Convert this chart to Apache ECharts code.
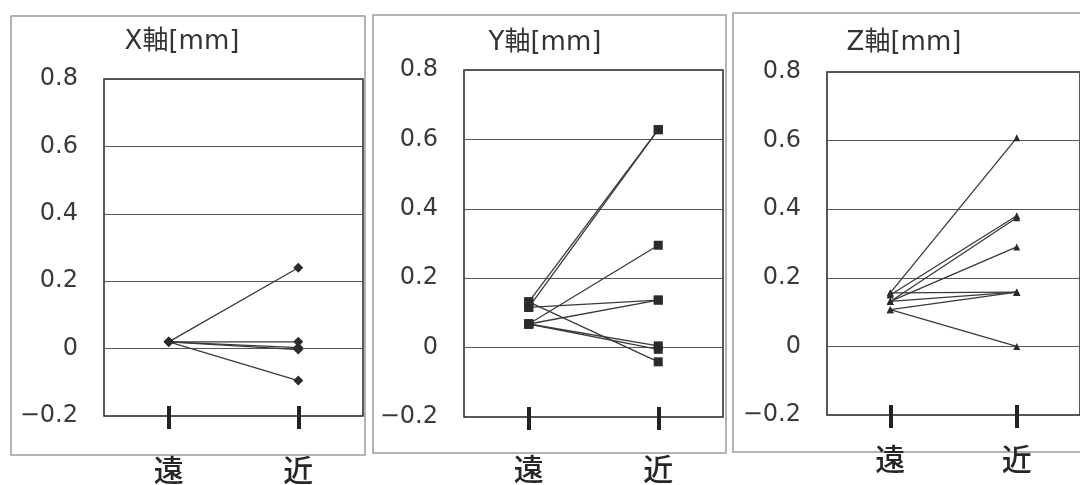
<!DOCTYPE html>
<html>
<head>
<meta charset="utf-8">
<script src="https://cdn.jsdelivr.net/npm/echarts@6/dist/echarts.min.js"></script>
<style>
  html, body { margin: 0; padding: 0; background: #fff; }
  #chart { width: 1080px; height: 485px; }
</style>
</head>
<body>
<div id="chart"></div>
<script>
// Categories on the horizontal axis and the value-axis tick labels
const categories = ['遠', '近'];
const yTickLabels = ['−0.2', '0', '0.2', '0.4', '0.6', '0.8'];

// Each line runs from its 遠 value to its 近 value (index i in both arrays)
const xFar  = [0.02, 0.02, 0.02, 0.02, 0.02];
const xNear = [0.24, 0.02, 0.003, -0.003, -0.095];

const yFar  = [0.132, 0.116, 0.116, 0.132, 0.068, 0.068, 0.068, 0.068];
const yNear = [0.628, 0.628, 0.137, -0.041, 0.295, 0.137, 0.005, -0.005];

const zFar  = [0.156, 0.15, 0.131, 0.131, 0.156, 0.131, 0.107, 0.107];
const zNear = [0.608, 0.381, 0.375, 0.29, 0.158, 0.158, 0.158, 0.0];

const panelTitles = ['X軸[mm]', 'Y軸[mm]', 'Z軸[mm]'];

const panels = [
  { far: xFar, near: xNear, symbol: 'diamond',  size: 10 },
  { far: yFar, near: yNear, symbol: 'rect',     size: 9 },
  { far: zFar, near: zNear, symbol: 'triangle', size: 7 }
];

// Panel geometry
const gridBoxes = [
  { left: 104, top: 79, width: 259, height: 341 },
  { left: 464, top: 70, width: 259, height: 347 },
  { left: 827, top: 72, width: 259, height: 343 }
];
const frameBoxes = [
  { x: 11,  y: 16, width: 354, height: 439 },
  { x: 373, y: 15, width: 353, height: 438 },
  { x: 733, y: 13, width: 400, height: 439 }
];
const titlePos = [[182, 42], [545, 43], [904, 43]];
const catLabelMargin = [39, 37, 29];

const numFont = '"DejaVu Sans", "Noto Sans CJK JP", sans-serif';
const cjkFont = '"Noto Sans CJK JP", "DejaVu Sans", sans-serif';
const ink = '#2b2b2b';

const grid = gridBoxes.map(g => Object.assign({
  show: true, borderColor: '#222', borderWidth: 1.5, backgroundColor: 'transparent'
}, g));

const xAxis = [];
const yAxis = [];
const series = [];

panels.forEach((p, pi) => {
  // main category axis: outer half of the tick + labels
  xAxis.push({
    gridIndex: pi, type: 'category', data: categories, boundaryGap: true, position: 'bottom',
    axisLine: { show: false, onZero: false },
    axisTick: { show: true, alignWithLabel: true, inside: false, length: 13,
                lineStyle: { width: 4, color: '#222' } },
    axisLabel: { margin: catLabelMargin[pi], fontSize: 30, fontFamily: cjkFont,
                 fontWeight: 500, color: '#262626', verticalAlign: 'top' },
    splitLine: { show: false }
  });
  // companion axis: inner half of the tick
  xAxis.push({
    gridIndex: pi, type: 'category', data: categories, boundaryGap: true, position: 'bottom',
    offset: 0,
    axisLine: { show: false, onZero: false },
    axisTick: { show: true, alignWithLabel: true, inside: true, length: 10,
                lineStyle: { width: 4, color: '#222' } },
    axisLabel: { show: false },
    splitLine: { show: false }
  });
  yAxis.push({
    gridIndex: pi, type: 'value', min: -0.2, max: 0.8, interval: 0.2,
    axisLine: { show: false },
    axisTick: { show: false },
    axisLabel: {
      margin: 26, fontSize: 24, fontFamily: numFont, color: '#3a3a3a',
      padding: [10, 0, 0, 0],
      formatter: (v, idx) => yTickLabels[idx]
    },
    splitLine: { show: true, lineStyle: { color: '#555', width: 1 } }
  });
  p.far.forEach((f, i) => {
    series.push({
      type: 'line',
      xAxisIndex: pi * 2,
      yAxisIndex: pi,
      data: [f, p.near[i]],
      symbol: p.symbol,
      symbolSize: p.size,
      showSymbol: true,
      lineStyle: { color: '#3a3a3a', width: 1.3 },
      itemStyle: { color: ink, borderWidth: 0 },
      emphasis: { disabled: true },
      z: 3
    });
  });
});

const graphic = [];
frameBoxes.forEach(b => {
  graphic.push({
    type: 'rect', z: -1, silent: true,
    shape: { x: b.x, y: b.y, width: b.width, height: b.height },
    style: { fill: 'none', stroke: '#9a9a9a', lineWidth: 1.5 }
  });
});
panelTitles.forEach((t, i) => {
  graphic.push({
    type: 'text', silent: true,
    x: titlePos[i][0], y: titlePos[i][1],
    style: {
      text: t, fill: '#333', font: '26px ' + numFont,
      align: 'center', verticalAlign: 'middle',
      textAlign: 'center', textVerticalAlign: 'middle'
    }
  });
});

const chart = echarts.init(document.getElementById('chart'), null, { renderer: 'canvas' });
chart.setOption({
  backgroundColor: '#fff',
  animation: false,
  grid, xAxis, yAxis, series, graphic
});
</script>
</body>
</html>
